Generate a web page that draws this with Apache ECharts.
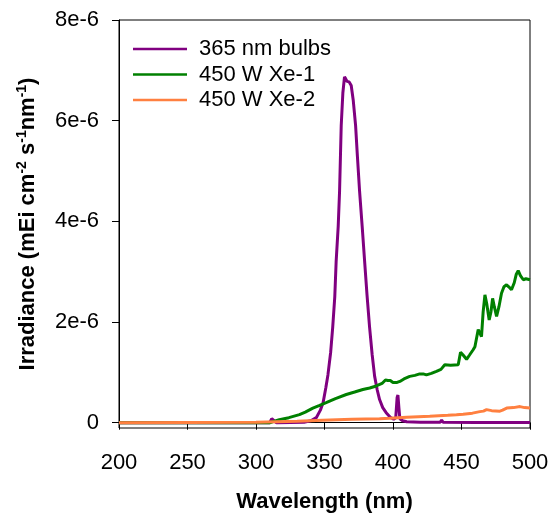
<!DOCTYPE html>
<html>
<head>
<meta charset="utf-8">
<script src="https://cdn.jsdelivr.net/npm/echarts@6/dist/echarts.min.js"></script>
<style>
html,body{margin:0;padding:0;background:#fff;}
#chart{width:550px;height:514px;}
</style>
</head>
<body>
<div id="chart"></div>
<script>
// Values of irradiance are in units of 1e-6 mEi cm-2 s-1 nm-1
const seriesNames = ['365 nm bulbs', '450 W Xe-1', '450 W Xe-2'];
const xTicks = [200, 250, 300, 350, 400, 450, 500];
const yTicks = [0, 2, 4, 6, 8];

const bulbWl = [200, 305, 310, 311.5, 312.5, 313.5, 315, 335, 340, 344, 347, 349, 351, 352.5, 354.5, 356, 357.5, 358.5, 360, 361, 362.2, 363.4, 364.6, 365.5, 366.5, 368, 369.5, 371, 372.7, 374, 375.6, 377.5, 379.3, 381, 382.9, 384.8, 386.6, 388.5, 390.2, 392.5, 395, 398, 400.5, 402, 403, 403.6, 404.3, 405, 407, 410, 420, 434.5, 435.5, 436.5, 460, 500];
const bulbVal = [0, 0, 0, 0.08, 0.1, 0.03, 0, 0.01, 0.04, 0.1, 0.25, 0.4, 0.7, 0.95, 1.4, 1.9, 2.5, 3.2, 3.9, 4.6, 5.9, 6.55, 6.87, 6.83, 6.78, 6.77, 6.7, 6.4, 5.9, 5.3, 4.6, 3.9, 3.2, 2.55, 1.9, 1.35, 0.92, 0.65, 0.46, 0.3, 0.2, 0.11, 0.07, 0.1, 0.5, 0.55, 0.3, 0.08, 0.04, 0.02, 0.01, 0.01, 0.05, 0.01, 0.005, 0.005];

const xe1Wl = [200, 310, 317, 324, 331.7, 336, 341.5, 346, 351.2, 358, 365.9, 372, 378, 383, 387.8, 392, 394.5, 396.3, 398, 400, 403, 405, 408, 412.2, 416, 419.5, 422, 424.4, 428, 431.7, 435, 437.8, 442, 447.6, 449.3, 451, 453.7, 456, 458.5, 459.8, 462.2, 464.6, 465.8, 467.1, 468.5, 470.2, 471.5, 472.7, 474, 475.6, 477.3, 479.2, 481, 482.9, 484.5, 486.5, 488.5, 490, 491.4, 493, 495.1, 497, 500];
const xe1Val = [0, 0, 0.06, 0.1, 0.16, 0.21, 0.29, 0.34, 0.4, 0.48, 0.56, 0.61, 0.66, 0.69, 0.73, 0.78, 0.85, 0.84, 0.84, 0.8, 0.8, 0.82, 0.87, 0.92, 0.94, 0.97, 0.97, 0.95, 0.98, 1.02, 1.06, 1.15, 1.14, 1.15, 1.4, 1.35, 1.26, 1.35, 1.45, 1.51, 1.85, 1.71, 2.2, 2.54, 2.35, 2.04, 2.2, 2.47, 2.3, 2.11, 2.3, 2.57, 2.7, 2.74, 2.7, 2.64, 2.78, 2.95, 3.02, 2.92, 2.84, 2.86, 2.84];

const xe2Wl = [200, 300, 330, 348.5, 370, 390.2, 397.6, 410, 426.8, 440, 446.3, 451.2, 458, 463.4, 466, 468.3, 472, 478, 480, 483, 488, 492.7, 496, 500];
const xe2Val = [0, 0.01, 0.03, 0.05, 0.07, 0.08, 0.09, 0.11, 0.13, 0.15, 0.16, 0.17, 0.19, 0.22, 0.23, 0.26, 0.24, 0.23, 0.25, 0.29, 0.3, 0.32, 0.3, 0.29];

const colors = ['#800080', '#008000', '#ff8040'];
const FONT = '"Liberation Sans", Arial, sans-serif';

function zip(a, b) { return a.map((v, i) => [v, b[i]]); }

const chart = echarts.init(document.getElementById('chart'), null, {renderer: 'canvas'});
const lineSeries = [[bulbWl, bulbVal], [xe1Wl, xe1Val], [xe2Wl, xe2Val]].map((d, i) => ({
  name: seriesNames[i],
  type: 'line',
  data: zip(d[0], d[1]),
  showSymbol: false,
  symbol: 'none',
  smooth: false,
  lineStyle: {color: colors[i], width: 3},
  itemStyle: {color: colors[i]},
  z: 2 + i,
  animation: false
}));

chart.setOption({
  animation: false,
  backgroundColor: '#fff',
  grid: {left: 119, top: 20, right: 20, bottom: 86, containLabel: false, outerBoundsMode: 'none',
    show: true, borderColor: '#000', borderWidth: 1, backgroundColor: 'transparent'},
  legend: {
    data: seriesNames,
    left: 128, top: 33, orient: 'vertical',
    icon: 'rect', itemWidth: 54, itemHeight: 2.5, itemGap: 3.5,
    textStyle: {fontFamily: FONT, fontSize: 22, color: '#000', padding: [0, 0, 0, 7]}
  },
  xAxis: {
    type: 'value', min: 200, max: 500, interval: 50,
    name: 'Wavelength (nm)', nameLocation: 'middle', nameGap: 63,
    nameTextStyle: {fontFamily: FONT, fontSize: 22, fontWeight: 'bold', color: '#000'},
    axisLine: {show: true, lineStyle: {color: '#000', width: 1}},
    axisTick: {show: true, inside: false, length: 7, lineStyle: {color: '#000'}},
    axisLabel: {fontFamily: FONT, fontSize: 22, color: '#000', margin: 24,
      customValues: xTicks},
    splitLine: {show: false}
  },
  yAxis: {
    type: 'value', min: -0.105, max: 8,
    name: '{b|Irradiance (mEi cm}{s|-2}{b| s}{s|-1}{b|nm}{s|-1}{b|)}',
    nameLocation: 'middle', nameGap: 78, nameRotate: 90,
    nameTextStyle: {
      fontFamily: FONT, fontSize: 22, fontWeight: 'bold', color: '#000',
      rich: {
        b: {fontFamily: FONT, fontSize: 22, fontWeight: 'bold', color: '#000', lineHeight: 26},
        s: {fontFamily: FONT, fontSize: 14, fontWeight: 'bold', color: '#000', verticalAlign: 'top', lineHeight: 26}
      }
    },
    axisLine: {show: true, lineStyle: {color: '#000', width: 1}},
    axisTick: {show: true, inside: false, length: 7, lineStyle: {color: '#000'}, customValues: yTicks},
    axisLabel: {fontFamily: FONT, fontSize: 22, color: '#000', margin: 20, customValues: yTicks,
      formatter: v => (Math.abs(v) < 1e-9 ? '0' : Math.round(v) + 'e-6')},
    splitLine: {show: false}
  },
  series: lineSeries
});
</script>
</body>
</html>
